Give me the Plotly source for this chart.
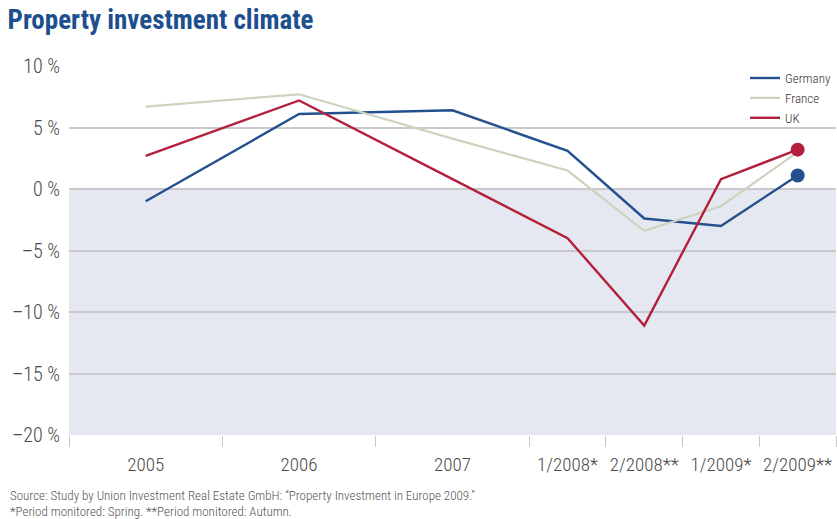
import numpy as np
import plotly.graph_objects as go

# ---- data ----
periods = ["2005", "2006", "2007", "1/2008*", "2/2008**", "1/2009*", "2/2009**"]
period_years = [1, 1, 1, 0.5, 0.5, 0.5, 0.5]   # length of each survey period
germany = [-1.0, 6.1, 6.4, 3.1, -2.4, -3.0, 1.1]
france = [6.7, 7.7, 4.1, 1.5, -3.4, -1.4, 3.0]
uk = [2.7, 7.2, 0.8, -4.0, -11.1, 0.8, 3.2]
y_ticks = [10, 5, 0, -5, -10, -15, -20]
y_tick_labels = ["10 %", "5 %", "0 %", "–5 %", "–10 %", "–15 %", "–20 %"]

# ---- positions on a time-proportional axis ----
bounds = np.concatenate([[0], np.cumsum(period_years)])
centers = (bounds[:-1] + bounds[1:]) / 2

FONT = "Roboto Condensed, Liberation Sans Narrow, Arial Narrow, sans-serif"
C_DE = "#23508e"
C_FR = "#ccd3bf"
C_UK = "#b3203c"

fig = go.Figure()
fig.add_trace(go.Scatter(x=centers, y=germany, mode="lines", name="Germany",
                         line=dict(color=C_DE, width=2.4)))
fig.add_trace(go.Scatter(x=centers, y=france, mode="lines", name="France",
                         line=dict(color=C_FR, width=2.2)))
fig.add_trace(go.Scatter(x=centers, y=uk, mode="lines", name="UK",
                         line=dict(color=C_UK, width=2.4)))
fig.add_trace(go.Scatter(x=[centers[-1]], y=[germany[-1]], mode="markers", showlegend=False,
                         marker=dict(color=C_DE, size=14), hoverinfo="skip"))
fig.add_trace(go.Scatter(x=[centers[-1]], y=[uk[-1]], mode="markers", showlegend=False,
                         marker=dict(color=C_UK, size=14), hoverinfo="skip"))

# shaded negative region
fig.add_shape(type="rect", xref="paper", yref="y", x0=0, x1=1, y0=-20, y1=0,
              fillcolor="#e6e8f1", line=dict(width=0), layer="below")

fig.update_layout(
    width=837, height=519,
    margin=dict(l=69, r=1, t=66, b=84),
    paper_bgcolor="white", plot_bgcolor="white",
    font=dict(family=FONT, color="#4a4a4a", size=16, weight=300),
    title=dict(text="<b>Property investment climate</b>", x=0.009, xanchor="left",
               y=0.962, yanchor="middle",
               font=dict(family=FONT, size=27, color="#1d4f8f")),
    legend=dict(x=1.0, xanchor="right", y=1.008, yanchor="top",
                bgcolor="rgba(0,0,0,0)",
                font=dict(size=13, color="#333333", weight=300),
                itemwidth=30, tracegroupgap=0),
    showlegend=True,
)
fig.update_xaxes(range=[bounds[0], bounds[-1]], tickmode="array", tickvals=centers,
                 ticktext=periods, ticks="", showgrid=False, zeroline=False,
                 showline=False, tickfont=dict(size=19, color="#4a4a4a", weight=300),
                 ticklabelstandoff=16,
                 minor=dict(tickmode="array", tickvals=bounds, ticks="outside",
                            ticklen=11, tickcolor="#c8c8c8", tickwidth=1, showgrid=False))
fig.update_yaxes(range=[-20, 10], tickmode="array", tickvals=y_ticks, ticktext=y_tick_labels,
                 showgrid=True, gridcolor="#c9c9cb", gridwidth=1.6, zeroline=False,
                 showline=False, ticks="", tickfont=dict(size=20, color="#4a4a4a", weight=300),
                 ticklabelstandoff=8)

fig.add_annotation(text="Source: Study by Union Investment Real Estate GmbH: “Property Investment in Europe 2009.”",
                   xref="paper", yref="paper", x=-61/767, y=-60/369, xanchor="left", yanchor="middle",
                   showarrow=False, font=dict(size=13, color="#555555", family=FONT, weight=300))
fig.add_annotation(text="*Period monitored: Spring. **Period monitored: Autumn.",
                   xref="paper", yref="paper", x=-61/767, y=-76/369, xanchor="left", yanchor="middle",
                   showarrow=False, font=dict(size=13, color="#555555", family=FONT, weight=300))

fig.write_html("out.html", config={"displayModeBar": False},
               post_script="document.body.style.margin='0';document.body.style.overflow='hidden';")
